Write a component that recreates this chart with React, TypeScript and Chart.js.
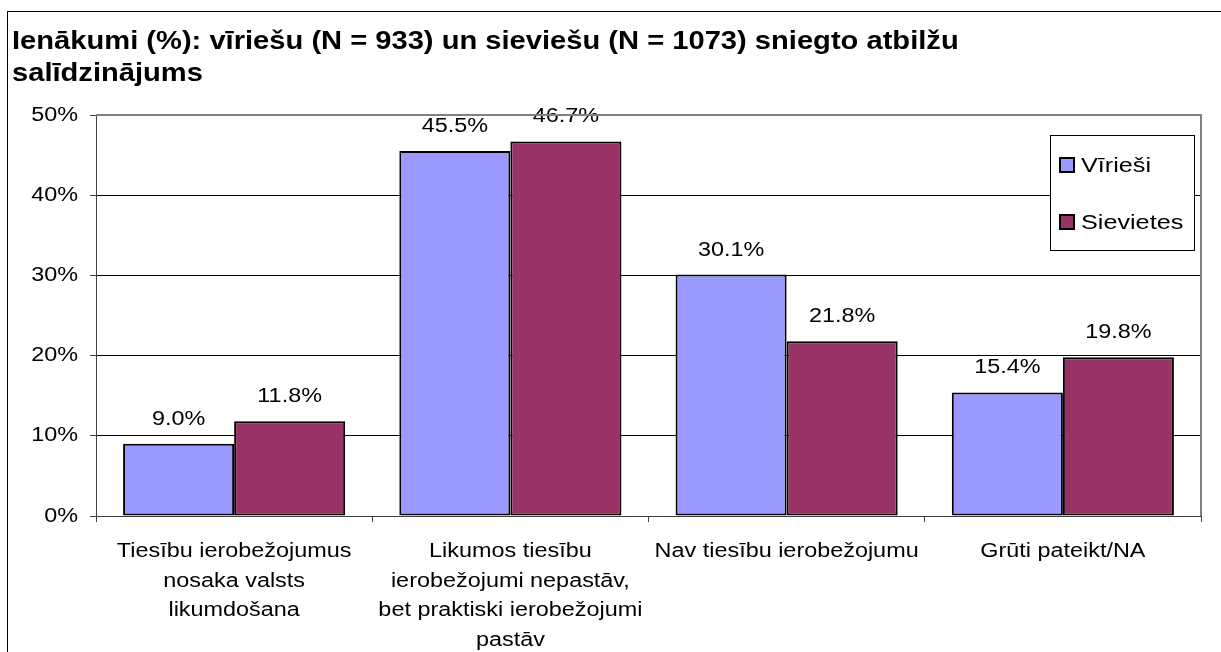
import React, { useEffect, useRef } from "react";
import { Chart, registerables } from "chart.js";

Chart.register(...registerables);

const categories: string[][] = [
  ["Tiesību ierobežojumus", "nosaka valsts", "likumdošana"],
  ["Likumos tiesību", "ierobežojumi nepastāv,", "bet praktiski ierobežojumi", "pastāv"],
  ["Nav tiesību ierobežojumu"],
  ["Grūti pateikt/NA"],
];
const menValues: number[] = [9.0, 45.5, 30.1, 15.4];
const womenValues: number[] = [11.8, 46.7, 21.8, 19.8];
const seriesNames: string[] = ["Vīrieši", "Sievietes"];
const seriesColors: string[] = ["#9999FF", "#993366"];
const titleLines: string[] = [
  "Ienākumi (%): vīriešu (N = 933) un sieviešu (N = 1073) sniegto atbilžu",
  "salīdzinājums",
];

const FONT = "Arial, 'Liberation Sans', sans-serif";
const SX = 1.17;

function txt(ctx: any, s: string, x: number, y: number, align: string, sx: number) {
  ctx.save();
  ctx.translate(x, y);
  ctx.scale(sx, 1);
  ctx.textAlign = align;
  ctx.fillText(s, 0, 0);
  ctx.restore();
}

const decorPlugin = {
  id: "decor",
  beforeDraw(chart: any) {
    const ctx = chart.ctx;
    ctx.save();
    ctx.fillStyle = "#ffffff";
    ctx.fillRect(0, 0, chart.width, chart.height);
    ctx.strokeStyle = "#000000";
    ctx.lineWidth = 1;
    ctx.strokeRect(7.5, 11.5, 1400, 800);
    ctx.fillStyle = "#000000";
    ctx.font = `bold 26px ${FONT}`;
    ctx.textBaseline = "alphabetic";
    txt(ctx, titleLines[0], 12, 49, "left", 1.12);
    txt(ctx, titleLines[1], 12, 81, "left", 1.12);
    ctx.restore();
  },
  afterDraw(chart: any) {
    const ctx = chart.ctx;
    const a = chart.chartArea;
    ctx.save();
    ctx.strokeStyle = "#808080";
    ctx.lineWidth = 2;
    ctx.beginPath();
    ctx.moveTo(a.left, a.top);
    ctx.lineTo(a.right, a.top);
    ctx.lineTo(a.right, a.bottom);
    ctx.stroke();

    const ys = chart.scales.y;
    ctx.fillStyle = "#000000";
    ctx.font = `20px ${FONT}`;
    ctx.textBaseline = "middle";
    ys.ticks.forEach((t: any) => {
      const py = ys.getPixelForValue(t.value);
      txt(ctx, t.value + "%", 78, py, "right", SX);
    });
    const xs = chart.scales.x;
    ctx.textBaseline = "alphabetic";
    categories.forEach((lines, i) => {
      const px = xs.getPixelForValue(i);
      lines.forEach((line, j) => {
        txt(ctx, line, px, 557 + j * 29.5, "center", SX);
      });
    });

    const lx = 1050.5, ly = 135.5, lw = 144, lh = 115;
    ctx.fillStyle = "#ffffff";
    ctx.fillRect(lx, ly, lw, lh);
    ctx.strokeStyle = "#000000";
    ctx.lineWidth = 1;
    ctx.strokeRect(lx, ly, lw, lh);
    const rows = [165, 222];
    ctx.font = `20px ${FONT}`;
    ctx.textBaseline = "middle";
    for (let i = 0; i < seriesNames.length; i++) {
      const cy = rows[i];
      ctx.fillStyle = seriesColors[i];
      ctx.fillRect(1060, cy - 7, 14, 14);
      ctx.lineWidth = 2;
      ctx.strokeStyle = "#000000";
      ctx.strokeRect(1060, cy - 7, 14, 14);
      ctx.fillStyle = "#000000";
      txt(ctx, seriesNames[i], 1081, cy + 1, "left", 1.26);
    }
    ctx.restore();
  },
  afterDatasetsDraw(chart: any) {
    const ctx = chart.ctx;
    ctx.save();
    ctx.font = `20px ${FONT}`;
    ctx.fillStyle = "#000000";
    ctx.textBaseline = "alphabetic";
    chart.data.datasets.forEach((ds: any, di: number) => {
      const meta = chart.getDatasetMeta(di);
      meta.data.forEach((bar: any, i: number) => {
        const v = ds.data[i] as number;
        txt(ctx, v.toFixed(1) + "%", bar.x, bar.y - 19, "center", SX);
      });
    });
    ctx.restore();
  },
};

export default function App() {
  const ref = useRef<HTMLCanvasElement | null>(null);
  useEffect(() => {
    document.body.style.margin = "0";
    const canvas = ref.current!;
    const mk = (i: number, data: number[]) => ({
      label: seriesNames[i],
      data,
      backgroundColor: seriesColors[i],
      borderColor: "#000000",
      borderWidth: 2,
      borderSkipped: false,
      categoryPercentage: 0.804,
      barPercentage: 1.0,
    });
    const chart = new Chart(canvas, {
      type: "bar",
      data: {
        labels: categories.map((c) => c.join(" ")),
        datasets: [mk(0, menValues), mk(1, womenValues)],
      },
      options: {
        responsive: false,
        animation: false,
        devicePixelRatio: 1,
        layout: { padding: { left: 0, top: 115, right: 20, bottom: 0 } },
        plugins: {
          legend: { display: false },
          title: { display: false },
          tooltip: { enabled: false },
        },
        scales: {
          x: {
            afterFit: (s: any) => {
              s.height = 136;
            },
            grid: {
              offset: true,
              drawOnChartArea: false,
              drawTicks: true,
              tickLength: 6,
              color: "#404040",
              tickColor: "#404040",
            },
            border: { display: true, color: "#404040", width: 1 },
            ticks: { color: "rgba(0,0,0,0)", maxRotation: 0, autoSkip: false },
          },
          y: {
            min: 0,
            max: 50,
            afterFit: (s: any) => {
              s.width = 96;
            },
            grid: {
              color: (c: any) => (c.tick && c.tick.value === 50 ? "rgba(0,0,0,0)" : "#000000"),
              lineWidth: 1,
              drawTicks: true,
              tickLength: 6,
              tickColor: "#404040",
            },
            border: { display: true, color: "#404040", width: 1 },
            ticks: {
              stepSize: 10,
              color: "rgba(0,0,0,0)",
              callback: (v: any) => v + "%",
            },
          },
        },
      },
      plugins: [decorPlugin],
    });
    return () => chart.destroy();
  }, []);
  return (
    <div style={{ width: 1221, height: 652 }}>
      <canvas ref={ref} width={1221} height={652} style={{ display: "block" }} />
    </div>
  );
}
